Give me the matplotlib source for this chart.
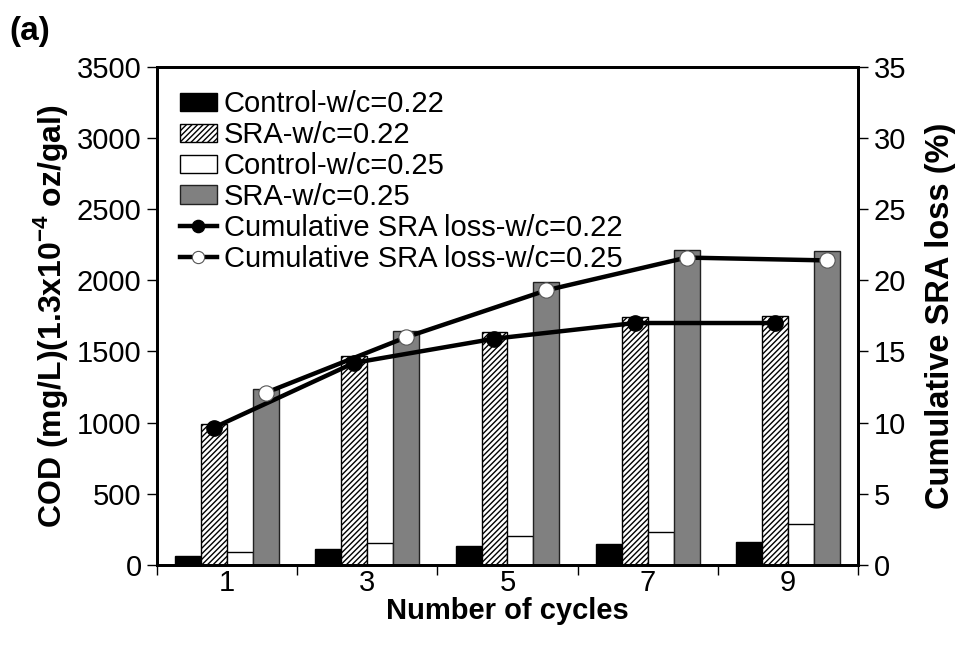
import matplotlib
matplotlib.use("Agg")
import matplotlib.pyplot as plt
import numpy as np

plt.rcParams["font.family"] = ["Liberation Sans", "DejaVu Sans"]
plt.rcParams["mathtext.fontset"] = "custom"
plt.rcParams["mathtext.rm"] = "Liberation Sans"
plt.rcParams["mathtext.bf"] = "Liberation Sans:bold"
plt.rcParams["hatch.linewidth"] = 1.0

cycles = ["1", "3", "5", "7", "9"]
control_022 = [64, 109, 133, 145, 159]
sra_022 = [993, 1467, 1637, 1743, 1750]
control_025 = [90, 156, 201, 232, 284]
sra_025 = [1237, 1642, 1986, 2210, 2203]
loss_022 = [9.65, 14.2, 15.9, 17.0, 17.0]
loss_025 = [12.1, 16.0, 19.3, 21.6, 21.4]

FS = 21
w = 0.185
x = np.arange(len(cycles))

fig = plt.figure(figsize=(9.62, 6.5), dpi=100)
ax = fig.add_axes([0.163, 0.131, 0.729, 0.766])

b1 = ax.bar(x - 1.5 * w, control_022, w, color="black", edgecolor="black", lw=1, label="Control-w/c=0.22")
b2 = ax.bar(x - 0.5 * w, sra_022, w, color="white", edgecolor="black", hatch="//////", lw=1, label="SRA-w/c=0.22")
b3 = ax.bar(x + 0.5 * w, control_025, w, color="white", edgecolor="black", lw=1, label="Control-w/c=0.25")
b4 = ax.bar(x + 1.5 * w, sra_025, w, color="#808080", edgecolor="#222222", lw=1, label="SRA-w/c=0.25")

ax.set_xlim(-0.5, len(cycles) - 0.5)
ax.set_ylim(0, 3500)
ax.set_yticks(np.arange(0, 3501, 500))
ax.set_xticks(x)
ax.set_xticklabels(cycles)
ax.set_xticks(np.arange(-0.5, len(cycles)), minor=True)
ax.tick_params(axis="x", which="major", length=0, pad=3, labelsize=FS)
ax.tick_params(axis="x", which="minor", length=7, width=1, direction="out")
ax.tick_params(axis="y", length=7, width=1, direction="out", labelsize=FS, pad=4)
for s in ax.spines.values():
    s.set_linewidth(2)

ax.set_xlabel("Number of cycles", fontsize=FS, weight="bold", labelpad=0)
ax.set_ylabel("COD (mg/L)(1.3x10$^{\\mathbf{-4}}$ oz/gal)", fontsize=23, weight="bold", labelpad=5)

ax2 = ax.twinx()
ax2.set_ylim(0, 35)
ax2.set_yticks(np.arange(0, 36, 5))
ax2.tick_params(axis="y", length=7, width=1, direction="out", labelsize=FS, pad=4)
l1, = ax2.plot(x - 0.5 * w, loss_022, "-o", color="black", lw=3.2, ms=11,
               mfc="black", mec="black", label="Cumulative SRA loss-w/c=0.22")
l2, = ax2.plot(x + 1.5 * w, loss_025, "-o", color="black", lw=3.2, ms=11,
               mfc="white", mec="#555555", mew=0.8, label="Cumulative SRA loss-w/c=0.25")
ax2.set_ylabel("Cumulative SRA loss (%)", fontsize=23.5, weight="bold", labelpad=14)
for s in ax2.spines.values():
    s.set_linewidth(2)

leg = ax2.legend([b1, b2, b3, b4, l1, l2],
                 [h.get_label() for h in [b1, b2, b3, b4, l1, l2]],
                 loc="upper left", bbox_to_anchor=(0.0, 1.0), frameon=False,
                 fontsize=FS, handlelength=1.25, handleheight=0.6, handletextpad=0.25,
                 labelspacing=0.1, borderaxespad=0.4, numpoints=1, markerscale=0.8)

fig.text(0.01, 0.975, "(a)", fontsize=24, weight="bold", va="top", ha="left")

plt.savefig("out.png", dpi=100)
